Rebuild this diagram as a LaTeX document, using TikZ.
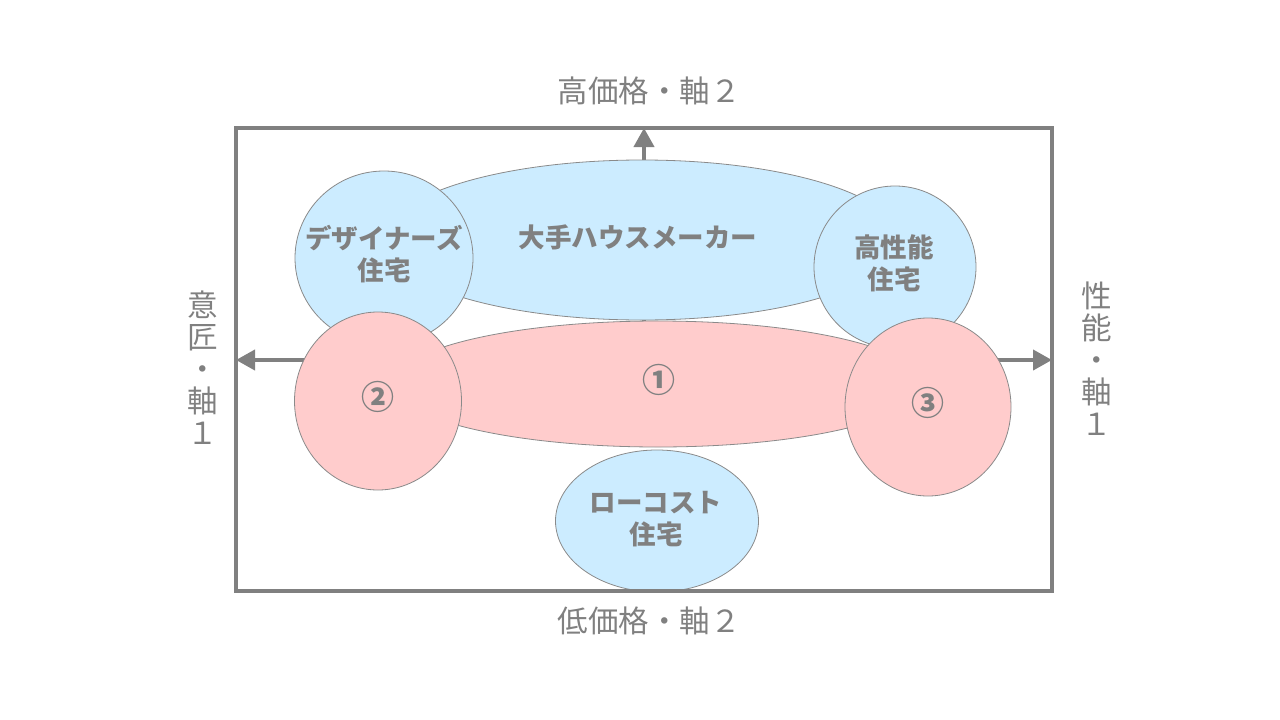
\documentclass[tikz,border=0pt]{standalone}
\usepackage{fontspec}
\newfontfamily\jp{Noto Sans CJK JP}
\usetikzlibrary{shapes.geometric,arrows.meta}
\definecolor{txtgray}{RGB}{128,128,128}
\definecolor{edgegray}{RGB}{138,138,138}
\definecolor{lblue}{RGB}{204,236,255}
\definecolor{lpink}{RGB}{255,204,204}
\begin{document}
\begin{tikzpicture}[x=1pt,y=-1pt,
  blob/.style={ellipse, draw=edgegray, line width=0.8pt, inner sep=0pt},
  bluebl/.style={blob, fill=lblue},
  pinkbl/.style={blob, fill=lpink},
  blobtxt/.style={text=txtgray, inner sep=0pt, align=center, font=\jp\bfseries\fontsize{26.5}{32}\selectfont},
  numtxt/.style={text=txtgray, inner sep=0pt, font=\jp\bfseries\fontsize{33}{34}\selectfont},
  axislbl/.style={text=txtgray, inner sep=0pt, align=center, font=\jp\fontsize{30.5}{32}\selectfont},
  axisline/.style={draw=txtgray, line width=4pt},
  axtip/.tip={Triangle[length=19pt,width=20pt]}]
\useasboundingbox (0,0) rectangle (1280,720);
% axes
\coordinate (ctr) at (644,360);
\coordinate (topmid) at (644,128);
\coordinate (leftmid) at (236,360);
\coordinate (rightmid) at (1052,360);
\draw[axisline, -axtip] (ctr) -- (topmid);
\draw[axisline, axtip-axtip] (leftmid) -- (rightmid);
% blue shapes
\node[bluebl, minimum width=516pt, minimum height=160pt] (maker) at (642,240) {};
\node[bluebl, minimum width=178pt, minimum height=174pt] (design) at (384,258) {};
\node[bluebl, minimum width=162pt, minimum height=162pt] (perf) at (895,267) {};
% pink shapes
\node[pinkbl, minimum width=530pt, minimum height=126pt] (one) at (658,384) {};
\node[pinkbl, minimum width=167pt, minimum height=178pt] (two) at (378,401) {};
\node[pinkbl, minimum width=166pt, minimum height=178pt] (three) at (928,407) {};
% low cost
\node[bluebl, minimum width=203pt, minimum height=142pt] (low) at (657,521) {};
% texts
\node[blobtxt] (makertxt) at (638,237) {大手ハウスメーカー};
\node[blobtxt] (designtxt) at (384,254) {デザイナーズ\\住宅};
\node[blobtxt] (perftxt) at (894,263) {高性能\\住宅};
\node[blobtxt] (lowtxt) at (656,519) {ローコスト\\住宅};
\node[numtxt] (onetxt) at (659,380) {①};
\node[numtxt] (twotxt) at (378,397) {②};
\node[numtxt] (threetxt) at (928,403) {③};
% frame
\node[draw=txtgray, line width=3.5pt, minimum width=816pt, minimum height=463pt, inner sep=0pt] (frame) at (644,359.5) {};
% axis labels
\node[axislbl] (toplbl) at (649,91) {高価格・軸２};
\node[axislbl] (botlbl) at (649,621) {低価格・軸２};
\node[axislbl] (leftlbl) at (203,368) {意\\匠\\・\\軸\\１};
\node[axislbl] (rightlbl) at (1097,359) {性\\能\\・\\軸\\１};
\end{tikzpicture}
\end{document}
